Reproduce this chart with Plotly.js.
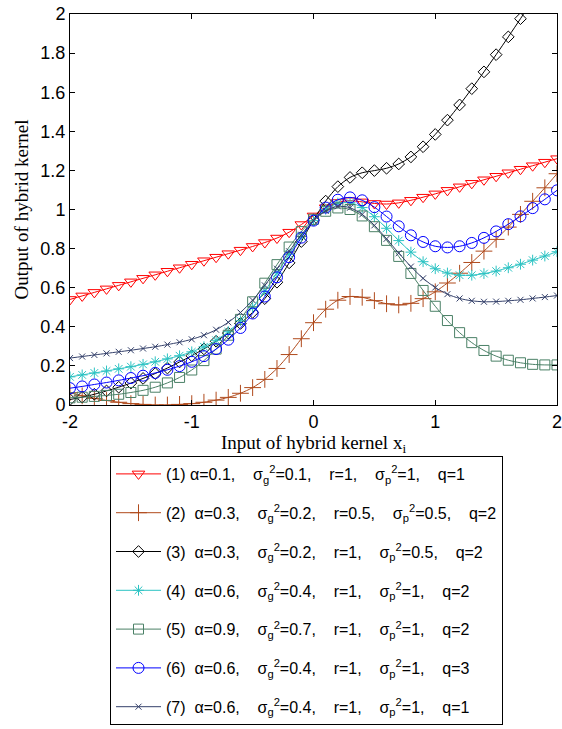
<!DOCTYPE html>
<html>
<head>
<meta charset="utf-8">
<script src="https://cdn.plot.ly/plotly-3.0.1.min.js"></script>
<style>html,body{margin:0;padding:0;background:#fff;}#chart{width:562px;height:729px;}</style>
</head>
<body>
<div id="chart"></div>
<script>
var xVals = [-2.0,-1.9,-1.8,-1.7,-1.6,-1.5,-1.4,-1.3,-1.2,-1.1,-1.0,-0.9,-0.8,-0.7,-0.6,-0.5,-0.4,-0.3,-0.2,-0.1,0.0,0.1,0.2,0.3,0.4,0.5,0.6,0.7,0.8,0.9,1.0,1.1,1.2,1.3,1.4,1.5,1.6,1.7,1.8,1.9,2.0];

var s1 = [0.540,0.558,0.576,0.594,0.612,0.630,0.648,0.666,0.684,0.702,0.720,0.738,0.756,0.774,0.792,0.811,0.831,0.854,0.884,0.923,0.967,1.009,1.036,1.045,1.039,1.031,1.028,1.034,1.047,1.063,1.080,1.098,1.116,1.134,1.152,1.170,1.188,1.206,1.224,1.242,1.260];
var s2 = [0.063,0.047,0.034,0.023,0.014,0.007,0.003,0.000,0.000,0.003,0.007,0.014,0.025,0.039,0.060,0.089,0.131,0.187,0.258,0.339,0.421,0.490,0.536,0.555,0.551,0.534,0.518,0.512,0.520,0.544,0.579,0.624,0.674,0.729,0.787,0.847,0.910,0.975,1.042,1.111,1.183];
var s3 = [0.028,0.040,0.055,0.072,0.091,0.112,0.136,0.161,0.189,0.220,0.252,0.287,0.326,0.368,0.417,0.474,0.544,0.628,0.727,0.836,0.946,1.043,1.117,1.164,1.188,1.199,1.211,1.233,1.269,1.321,1.384,1.457,1.535,1.618,1.704,1.792,1.883,1.976,2.071,2.168,2.268];
var s4 = [0.144,0.154,0.164,0.174,0.185,0.196,0.208,0.221,0.236,0.252,0.272,0.298,0.331,0.375,0.431,0.500,0.583,0.675,0.771,0.863,0.943,1.001,1.033,1.035,1.010,0.963,0.904,0.841,0.782,0.733,0.697,0.675,0.664,0.664,0.672,0.685,0.702,0.720,0.741,0.762,0.784];
var s5 = [0.037,0.040,0.044,0.049,0.055,0.064,0.075,0.091,0.113,0.141,0.179,0.227,0.286,0.357,0.438,0.528,0.623,0.718,0.808,0.887,0.950,0.991,1.008,1.000,0.967,0.912,0.842,0.760,0.673,0.586,0.505,0.432,0.370,0.319,0.279,0.250,0.229,0.216,0.208,0.205,0.205];
var s6 = [0.086,0.095,0.105,0.115,0.126,0.138,0.150,0.164,0.180,0.199,0.221,0.250,0.286,0.334,0.394,0.468,0.555,0.653,0.756,0.856,0.943,1.010,1.050,1.062,1.047,1.012,0.964,0.914,0.868,0.834,0.812,0.806,0.812,0.829,0.855,0.888,0.925,0.965,1.007,1.052,1.098];
var s7 = [0.240,0.248,0.256,0.264,0.272,0.280,0.289,0.298,0.309,0.321,0.336,0.357,0.385,0.423,0.473,0.536,0.612,0.697,0.786,0.871,0.943,0.993,1.016,1.009,0.975,0.919,0.850,0.777,0.708,0.648,0.601,0.567,0.545,0.533,0.528,0.529,0.533,0.538,0.545,0.552,0.560];

var S = '\u00a0';
var G = S+S+S+' ';
var labels = [
  '(1) α=0.1,'+G+'σ<sub>g</sub><sup>2</sup>=0.1,'+G+'r=1,'+G+'σ<sub>p</sub><sup>2</sup>=1,'+G+'q=1',
  '(2)'+S+' α=0.3,'+G+'σ<sub>g</sub><sup>2</sup>=0.2,'+G+'r=0.5,'+G+'σ<sub>p</sub><sup>2</sup>=0.5,'+G+'q=2',
  '(3)'+S+' α=0.3,'+G+'σ<sub>g</sub><sup>2</sup>=0.2,'+G+'r=1,'+G+'σ<sub>p</sub><sup>2</sup>=0.5,'+G+'q=2',
  '(4)'+S+' α=0.6,'+G+'σ<sub>g</sub><sup>2</sup>=0.4,'+G+'r=1,'+G+'σ<sub>p</sub><sup>2</sup>=1,'+G+'q=2',
  '(5)'+S+' α=0.9,'+G+'σ<sub>g</sub><sup>2</sup>=0.7,'+G+'r=1,'+G+'σ<sub>p</sub><sup>2</sup>=1,'+G+'q=2',
  '(6)'+S+' α=0.6,'+G+'σ<sub>g</sub><sup>2</sup>=0.4,'+G+'r=1,'+G+'σ<sub>p</sub><sup>2</sup>=1,'+G+'q=3',
  '(7)'+S+' α=0.6,'+G+'σ<sub>g</sub><sup>2</sup>=0.4,'+G+'r=1,'+G+'σ<sub>p</sub><sup>2</sup>=1,'+G+'q=1'
];
var series = [s1,s2,s3,s4,s5,s6,s7];
var colors = ['#ff0000','#b04a1c','#000000','#2cc3c3','#4a8066','#0000ff','#34406a'];
var symbols = ['triangle-down-open','cross-thin-open','diamond-open','asterisk-open','square-open','circle-open','x-thin-open'];
var sizes = [11,12,9,9,10,11,6];

var traces = series.map(function(s,i){
  return {
    x: xVals, y: s, type:'scatter', mode:'lines+markers',
    name: labels[i], legendgroup:'g'+i,
    line:{color:colors[i], width:1, shape:'spline', smoothing:0.8},
    marker:{symbol:symbols[i], size:sizes[i], color:colors[i], line:{color:colors[i], width:1}}
  };
});

var layout = {
  width:562, height:729,
  margin:{l:70, r:5, t:14, b:323},
  paper_bgcolor:'#fff', plot_bgcolor:'#fff',
  font:{family:'Liberation Sans, Arial, sans-serif', color:'#000'},
  showlegend:true,
  xaxis:{
    range:[-2,2], tickvals:[-2,-1,0,1,2], ticktext:['-2','-1','0','1','2'],
    ticks:'inside', ticklen:5, tickcolor:'#000', showline:true, linecolor:'#000', linewidth:1,
    mirror:'ticks', showgrid:false, zeroline:false, ticklabeloverflow:'allow',
    tickfont:{size:18, family:'Liberation Sans, Arial, sans-serif'},
    title:{text:'Input of hybrid kernel x<sub>i</sub>', font:{family:'Liberation Serif, Times New Roman, serif', size:19}, standoff:4}
  },
  yaxis:{
    range:[0,2], tickvals:[0,0.2,0.4,0.6,0.8,1,1.2,1.4,1.6,1.8,2], ticktext:['0','0.2','0.4','0.6','0.8','1','1.2','1.4','1.6','1.8','2'],
    ticks:'inside', ticklen:5, tickcolor:'#000', showline:true, linecolor:'#000', linewidth:1,
    mirror:'ticks', showgrid:false, zeroline:false,
    tickfont:{size:18, family:'Liberation Sans, Arial, sans-serif'},
    title:{text:'Output of hybrid kernel', font:{family:'Liberation Serif, Times New Roman, serif', size:19}, standoff:6}
  },
  legend:{
    x:(110-70)/487, xanchor:'left', y:(406-456)/392, yanchor:'top',
    bordercolor:'#000', borderwidth:1, bgcolor:'#fff',
    font:{family:'Liberation Sans, Arial, sans-serif', size:16, color:'#000'},
    itemwidth:45, tracegroupgap:15
  }
};

Plotly.newPlot('chart', traces, layout, {displayModeBar:false, staticPlot:true});
</script>
</body>
</html>
